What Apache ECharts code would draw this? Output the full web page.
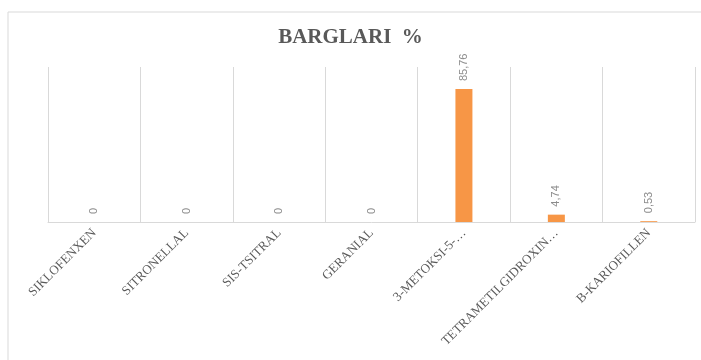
<!DOCTYPE html>
<html><head><meta charset="utf-8">
<script src="https://cdn.jsdelivr.net/npm/echarts@6/dist/echarts.min.js"></script>
<style>html,body{margin:0;padding:0;background:#fff}#c{width:701px;height:360px}</style>
</head><body><div id="c"></div>
<script>
const titleText = 'BARGLARI  %';
const categories = ['SIKLOFENXEN','SITRONELLAL','SIS-TSITRAL','GERANIAL','3-METOKSI-5-…','TETRAMETILGIDROXIN…','B-KARIOFILLEN'];
const values = [0, 0, 0, 0, 85.76, 4.74, 0.53];

const chart = echarts.init(document.getElementById('c'), null, {renderer:'canvas'});
chart.setOption({
  animation:false,
  backgroundColor:'#fff',
  graphic:[{type:'rect', shape:{x:8,y:12,width:720,height:380}, style:{fill:'none', stroke:'#d9d9d9', lineWidth:1}, silent:true}],
  title:{text:titleText, left:'center', top:22, textStyle:{fontFamily:'Liberation Serif', fontWeight:'bold', fontSize:21, color:'#595959'}},
  grid:{left:48, right:6, top:67, bottom:138, containLabel:false},
  xAxis:{type:'category', data:categories,
    axisLine:{lineStyle:{color:'#d9d9d9'}}, axisTick:{show:false},
    splitLine:{show:true, lineStyle:{color:'#d9d9d9'}},
    axisLabel:{interval:0, rotate:45, margin:9, fontFamily:'Liberation Serif', fontSize:13, color:'#595959'}},
  yAxis:{type:'value', min:0, max:100, show:false, splitLine:{show:false}},
  series:[{type:'bar', data:values, barWidth:17, itemStyle:{color:'#F79646'},
    label:{show:true, position:'top', rotate:90, align:'left', verticalAlign:'middle', distance:8,
      fontFamily:'Liberation Sans', fontSize:11, color:'#8c8c8c',
      formatter:p=>String(p.value).replace('.',',')}}]
});
</script></body></html>
